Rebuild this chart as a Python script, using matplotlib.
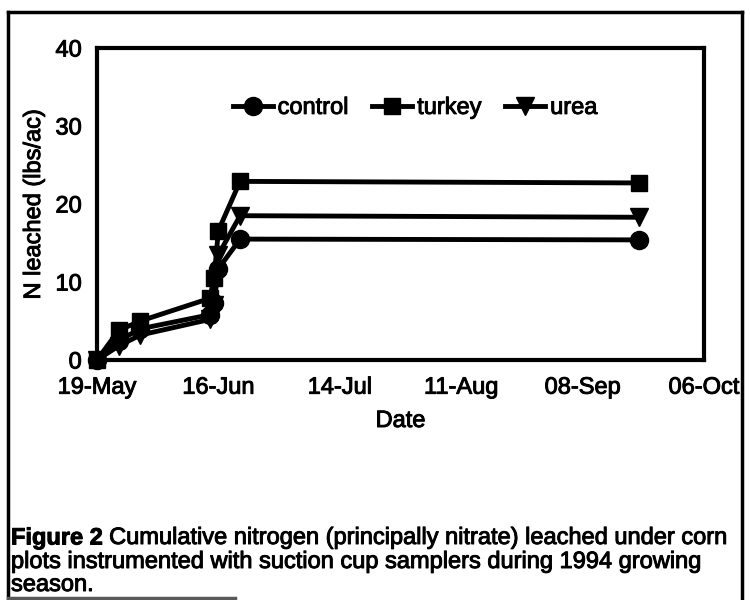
import matplotlib
matplotlib.use("Agg")
import matplotlib.pyplot as plt
import matplotlib.dates as mdates
import matplotlib.patheffects as pe
from matplotlib.lines import Line2D
import pandas as pd

# sampling dates (1994 season) and cumulative N leached, lbs/ac
dates = ["1994-05-19", "1994-05-24", "1994-05-29", "1994-06-14",
         "1994-06-15", "1994-06-16", "1994-06-21", "1994-09-21"]
control = [0.0, 2.5, 4.0, 5.8, 7.3, 11.7, 15.5, 15.4]
turkey = [0.0, 3.8, 5.0, 7.9, 10.5, 16.6, 22.9, 22.7]
urea = [0.0, 1.8, 3.2, 5.2, 7.0, 13.5, 18.5, 18.3]

tick_dates = ["1994-05-19", "1994-06-16", "1994-07-14",
              "1994-08-11", "1994-09-08", "1994-10-06"]
y_ticks = [0, 10, 20, 30, 40]

plt.rcParams["font.family"] = ["Liberation Sans", "DejaVu Sans"]
# scanned print looks heavier than plain regular type
ink = [pe.withStroke(linewidth=0.7, foreground="black")]

W, H = 750, 600
FS = 17
fig = plt.figure(figsize=(7.5, 6), dpi=100)
ax = fig.add_axes([97 / W, 1 - 360 / H, (704 - 97) / W, (360 - 48) / H])

x = pd.to_datetime(dates)
style = dict(color="black", lw=3.5, mec="black", mfc="black", clip_on=False, zorder=3)
ax.plot(x, control, marker="o", ms=13, label="control", **style)
ax.plot(x, turkey, marker="s", ms=12, label="turkey", **style)
ax.plot(x, urea, marker="v", ms=13, label="urea", **style)

ticks = pd.to_datetime(tick_dates)
ax.set_xlim(ticks[0], ticks[-1])
ax.set_xticks(ticks)
ax.xaxis.set_major_formatter(mdates.DateFormatter("%d-%b"))
ax.set_ylim(0, 40)
ax.set_yticks(y_ticks)

for sp in ax.spines.values():
    sp.set_linewidth(3)
ax.tick_params(axis="x", length=0, pad=12, labelsize=FS)
ax.tick_params(axis="y", length=0, pad=11, labelsize=FS)
for lab in ax.get_xticklabels() + ax.get_yticklabels():
    lab.set_path_effects(ink)

ax.set_xlabel("Date", fontsize=FS, path_effects=ink)
ax.xaxis.set_label_coords(0.5, (360 - 410) / 312)
ax.set_ylabel("N leached (lbs/ac)", fontsize=FS, path_effects=ink)
ax.yaxis.set_label_coords((45 - 97) / 607, 0.5)

leg = ax.legend(loc="center", bbox_to_anchor=(0.524, 0.808), ncol=3, frameon=False,
                fontsize=FS, handlelength=1.7, handletextpad=0.2,
                columnspacing=1.0, borderaxespad=0)
for txt in leg.get_texts():
    txt.set_path_effects(ink)

# outer frame of the scanned figure
fx = lambda px: px / W
fy = lambda py: 1 - py / H
for xs, ys, c in [((8, 8), (12, 598), "black"),
                  ((8, 742), (12, 12), "black"),
                  ((742, 742), (12, 598), "black"),
                  ((8, 235), (598, 598), "0.35")]:
    fig.add_artist(Line2D([fx(v) for v in xs], [fy(v) for v in ys],
                          transform=fig.transFigure, color=c, lw=2.5))

# caption
cap_y = [538, 562, 585]
t = fig.text(fx(11), fy(cap_y[0]), "Figure 2", fontsize=FS, weight="bold",
             va="center", path_effects=ink)
fig.canvas.draw()
bb = t.get_window_extent()
fig.text(bb.x1 / W + 6 / W, fy(cap_y[0]),
         "Cumulative nitrogen (principally nitrate) leached under corn",
         fontsize=FS, va="center", path_effects=ink)
fig.text(fx(11), fy(cap_y[1]),
         "plots instrumented with suction cup samplers during 1994 growing",
         fontsize=FS, va="center", path_effects=ink)
fig.text(fx(11), fy(cap_y[2]), "season.", fontsize=FS, va="center", path_effects=ink)

fig.savefig("out.png", dpi=100)
